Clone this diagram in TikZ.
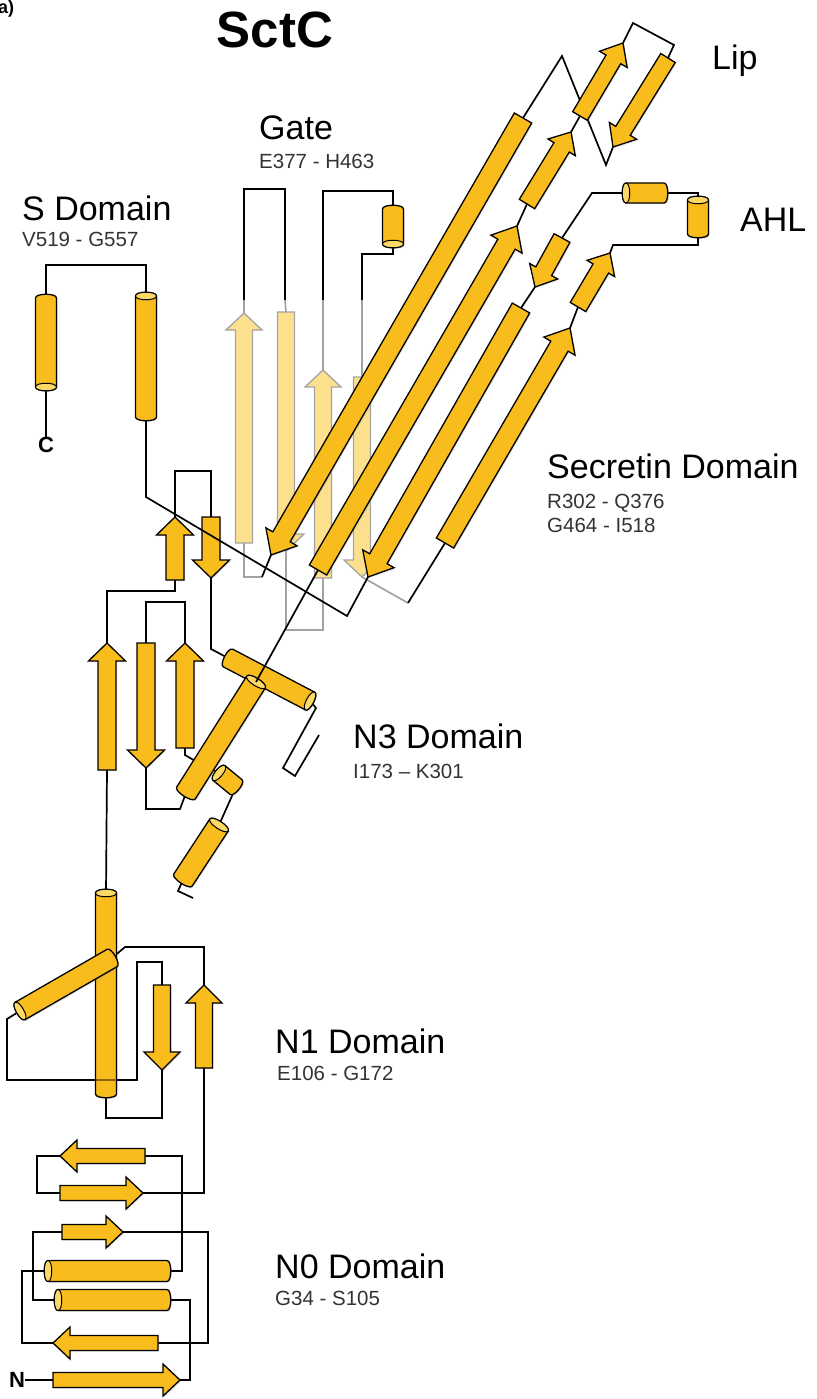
\documentclass[tikz,border=0pt]{standalone}
\usepackage{fontspec}
\setmainfont{Liberation Sans}
\usetikzlibrary{calc,shadows}

\definecolor{sheetfill}{HTML}{F8BC1C}
\definecolor{helixcap}{HTML}{FCD866}
\definecolor{gatefill}{HTML}{FCE08E}
\definecolor{gatedraw}{HTML}{A3A3A3}

\tikzset{
  coil/.style={line width=1.7pt, line join=miter},
  gatecoil/.style={coil, draw=gatedraw},
  sheetbox/.style={draw, fill=sheetfill, line width=1.3pt, line join=miter,
    drop shadow={shadow xshift=1.2pt, shadow yshift=-1.2pt, opacity=.25}},
  gatebox/.style={draw=gatedraw, fill=gatefill, line width=1.3pt, line join=miter},
  rodbody/.style={draw, fill=sheetfill, line width=1.3pt,
    drop shadow={shadow xshift=1.2pt, shadow yshift=-1.2pt, opacity=.25}},
  rodcap/.style={draw, fill=helixcap, line width=1pt},
  domtitle/.style={anchor=base west, inner sep=0pt, font=\fontsize{34}{40}\selectfont},
  residues/.style={anchor=base west, inner sep=0pt, text=black!80,
    font=\fontsize{20.5}{24}\selectfont},
  terminus/.style={inner sep=0pt, font=\bfseries\fontsize{22}{22}\selectfont},
}

% strand arrow from tail #2 to tip #3; \sw half body, \hw half head, \hl head length
\newcommand\setsheet[3]{\def\sw{#1}\def\hw{#2}\def\hl{#3}}
\newcommand\sheetarrow[3][sheetbox]{%
  \coordinate (neck) at ($(#3)!\hl!(#2)$);
  \draw[#1] ($(#2)!\sw!90:(#3)$) -- ($(neck)!\sw!-90:(#2)$) -- ($(neck)!\hw!-90:(#2)$)
    -- (#3) -- ($(neck)!\hw!90:(#2)$) -- ($(neck)!\sw!90:(#2)$)
    -- ($(#2)!\sw!-90:(#3)$) -- cycle;}
% helix rod #2, closed end #3, open end #4 (end face drawn), half width #1
\def\capk{5pt}
\newcommand\helixrod[4][10.5pt]{%
  \coordinate (#2a1) at ($(#3)!#1!90:(#4)$);
  \coordinate (#2a2) at ($(#3)!#1!-90:(#4)$);
  \coordinate (#2b1) at ($(#4)!#1!-90:(#3)$);
  \coordinate (#2b2) at ($(#4)!#1!90:(#3)$);
  \draw[rodbody] (#2b1) -- (#2a1)
    .. controls ($(#2a1)!-\capk!(#2b1)$) and ($(#2a2)!-\capk!(#2b2)$) .. (#2a2)
    -- (#2b2) .. controls ($(#2b2)!-\capk!(#2a2)$) and ($(#2b1)!-\capk!(#2a1)$) .. cycle;
  \draw[rodcap] (#2b1)
    .. controls ($(#2b1)!-\capk!(#2a1)$) and ($(#2b2)!-\capk!(#2a2)$) .. (#2b2)
    .. controls ($(#2b2)!\capk!(#2a2)$) and ($(#2b1)!\capk!(#2a1)$) .. cycle;}

\begin{document}
\begin{tikzpicture}[x=1pt, y=-1pt]
\useasboundingbox (0,0) rectangle (816,1399);

% labels
\node[anchor=base west, inner sep=0pt, font=\bfseries\fontsize{18}{18}\selectfont] (panel) at (-2,14) {a)};
\node[anchor=base, inner sep=0pt, font=\bfseries\fontsize{51}{51}\selectfont] (name) at (275,48) {SctC};
\node[domtitle] (gate) at (259,140) {Gate};
\node[residues] (gater) at (259,168) {E377 - H463};
\node[domtitle] (sdom) at (22,220) {S Domain};
\node[residues] (sdomr) at (22,246) {V519 - G557};
\node[domtitle] (lip) at (712,70) {Lip};
\node[domtitle] (ahl) at (740,231) {AHL};
\node[domtitle] (sec) at (547,478) {Secretin Domain};
\node[residues] (secra) at (547,508) {R302 - Q376};
\node[residues] (secrb) at (547,532) {G464 - I518};
\node[domtitle] (nthree) at (353,748) {N3 Domain};
\node[residues] (nthreer) at (353,778) {I173 – K301};
\node[domtitle] (none) at (275,1053) {N1 Domain};
\node[residues] (noner) at (277,1080) {E106 - G172};
\node[domtitle] (nzero) at (275,1278) {N0 Domain};
\node[residues] (nzeror) at (275,1305) {G34 - S105};
\node[terminus] (nterm) at (17,1380) {N};
\node[terminus] (cterm) at (46,445) {C};

% element ends
% N0
\coordinate (b1s) at (53,1380);  \coordinate (b1e) at (180,1380);
\coordinate (b2s) at (62,1232);  \coordinate (b2e) at (123,1232);
\coordinate (b3s) at (158,1343); \coordinate (b3e) at (53,1343);
\coordinate (b4s) at (145,1156); \coordinate (b4e) at (60,1156);
\coordinate (b5s) at (60,1193);  \coordinate (b5e) at (143,1193);
\coordinate (h1s) at (167,1300); \coordinate (h1e) at (58,1300);
\coordinate (h2s) at (167,1271); \coordinate (h2e) at (48,1271);
% N1
\coordinate (b6s) at (204,1068); \coordinate (b6e) at (204,985);
\coordinate (b7s) at (162,985);  \coordinate (b7e) at (162,1070);
\coordinate (h3s) at (112,958);  \coordinate (h3e) at (20,1011);
\coordinate (h4s) at (106,1094); \coordinate (h4e) at (106,893);
% N3
\coordinate (b8s) at (107,770);  \coordinate (b8e) at (107,643);
\coordinate (b9s) at (175,580);  \coordinate (b9e) at (175,517);
\coordinate (b10s) at (211,517); \coordinate (b10e) at (211,578);
\coordinate (b11s) at (146,643); \coordinate (b11e) at (146,768);
\coordinate (b12s) at (185,748); \coordinate (b12e) at (185,643);
\coordinate (h5s) at (228,658);  \coordinate (h5e) at (310,701);
\coordinate (h6s) at (186,793);  \coordinate (h6e) at (256,682);
\coordinate (h7s) at (236,787);  \coordinate (h7e) at (219,773);
\coordinate (h8s) at (183,880);  \coordinate (h8e) at (219,825);
% secretin and lip
\coordinate (s1s) at (318,570);  \coordinate (s1e) at (517,226);
\coordinate (s2s) at (527,204);  \coordinate (s2e) at (571,132);
\coordinate (l1s) at (580,116);  \coordinate (l1e) at (623,43);
\coordinate (l2s) at (668,58);   \coordinate (l2e) at (613,147);
\coordinate (s3s) at (523,118);  \coordinate (s3e) at (271,555);
\coordinate (s4s) at (445,543);  \coordinate (s4e) at (570,328);
\coordinate (s5s) at (578,307);  \coordinate (s5e) at (610,253);
\coordinate (s6s) at (562,238);  \coordinate (s6e) at (535,287);
\coordinate (s7s) at (521,308);  \coordinate (s7e) at (368,577);
\coordinate (h9s) at (664,193);  \coordinate (h9e) at (626,193);
\coordinate (h10s) at (698,234); \coordinate (h10e) at (698,200);
% gate
\coordinate (g1s) at (244,543);  \coordinate (g1e) at (244,313);
\coordinate (g2s) at (286,312);  \coordinate (g2e) at (286,551);
\coordinate (g3s) at (323,578);  \coordinate (g3e) at (323,370);
\coordinate (g4s) at (362,377);  \coordinate (g4e) at (362,577);
\coordinate (h11s) at (393,209); \coordinate (h11e) at (393,244);
% S domain
\coordinate (h12s) at (146,417); \coordinate (h12e) at (146,296);
\coordinate (h13s) at (46,298);  \coordinate (h13e) at (46,387);

% gate insert, faded
\draw[gatecoil] (262,577) -| (g1s);
\draw[gatecoil] (g1e) -- (244,300);
\draw[coil] (244,300) -- (244,189) -| (285,300);
\draw[gatecoil] (285,300) -- (g2s);
\draw[gatecoil] (g2e) -- (286,630) -| (g3s);
\draw[gatecoil] (g3e) -- (323,300);
\draw[coil] (323,300) -- (323,191) -| (h11s);
\draw[coil] (h11e) -- (393,254) -| (362,300);
\draw[gatecoil] (362,300) -- (g4s);
\draw[gatecoil] (g4e) -- (408,603);
\setsheet{8.5pt}{18pt}{17pt}
\sheetarrow[gatebox]{g1s}{g1e}
\sheetarrow[gatebox]{g2s}{g2e}
\sheetarrow[gatebox]{g3s}{g3e}
\sheetarrow[gatebox]{g4s}{g4e}

% connecting loops
\draw[coil] (nterm) -- (b1s);
\draw[coil] (b1e) -- (190,1380) |- (h1s);
\draw[coil] (h1e) -- (33,1300) |- (b2s);
\draw[coil] (b2e) -- (208,1232) |- (b3s);
\draw[coil] (b3e) -- (22,1343) |- (h2e);
\draw[coil] (h2s) -- (182,1271) |- (b4s);
\draw[coil] (b4e) -- (37,1156) |- (b5s);
\draw[coil] (b5e) -| (b6s);
\draw[coil] (b6e) -- (204,947) -- (125,947) -- (h3s);
\draw[coil] (h3e) -- (7,1019) -- (7,1080) -- (137,1080) |- (162,962) -- (b7s);
\draw[coil] (b7e) -- (162,1118) -| (h4s);
\draw[coil] (h4e) -- (b8s);
\draw[coil] (b8e) -- (107,591) -| (b9s);
\draw[coil] (b9e) -- (175,471) -| (b10s);
\draw[coil] (b10e) -- (211,649) -- (h5s);
\draw[coil] (h5e) -- (316,708) -- (283,768) -- (295,776) -- (319,735);
\draw[coil] (h8s) -- (178,891) -- (193,898);
\draw[coil] (h8e) -- (h7s);
\draw[coil] (h7e) -- (197,762) -- (185,755) -- (b12s);
\draw[coil] (b12e) -- (185,602) -| (b11s);
\draw[coil] (b11e) -- (146,809) -- (180,809) -- (h6s);
\draw[coil] (s1e) -- (s2s);
\draw[coil] (s2e) -- (l1s);
\draw[coil] (l1e) -- (633,23) -- (674,45) -- (l2s);
\draw[coil] (l2e) -- (606,165) -- (562,56) -- (s3s);
\draw[coil] (s3e) -- (262,577);
\draw[coil] (408,603) -- (s4s);
\draw[coil] (s4e) -- (s5s);
\draw[coil] (s5e) -- (613,245) -| (h10s);
\draw[coil] (h10e) |- (h9s);
\draw[coil] (h9e) -- (592,193) -- (s6s);
\draw[coil] (s6e) -- (s7s);
\draw[coil] (h12e) -- (146,265) -| (h13s);
\draw[coil] (h13e) -- (cterm);

% N0 domain
\setsheet{7.5pt}{16pt}{17pt}
\sheetarrow{b1s}{b1e}
\sheetarrow{b2s}{b2e}
\sheetarrow{b3s}{b3e}
\sheetarrow{b4s}{b4e}
\sheetarrow{b5s}{b5e}
\helixrod{ha}{h1s}{h1e}
\helixrod{hb}{h2s}{h2e}

% N1 domain
\setsheet{8.5pt}{18pt}{18pt}
\sheetarrow{b6s}{b6e}
\sheetarrow{b7s}{b7e}
\helixrod{hd}{h4s}{h4e}
\draw[coil, draw opacity=.45] (7,1080) -- (137,1080);
\helixrod[10pt]{hc}{h3s}{h3e}

% N3 domain
\setsheet{9pt}{18.5pt}{18pt}
\sheetarrow{b8s}{b8e}
\sheetarrow{b9s}{b9e}
\sheetarrow{b10s}{b10e}
\sheetarrow{b11s}{b11e}
\sheetarrow{b12s}{b12e}
\helixrod[10pt]{he}{h5s}{h5e}
\helixrod[11pt]{hf}{h6s}{h6e}
\helixrod[9.5pt]{hg}{h7s}{h7e}
\helixrod[11pt]{hh}{h8s}{h8e}
\draw[coil] (h6e) -- (s1s);
\draw[coil] (s7e) -- (347,616) -- (146,497) -- (h12s);

% secretin domain
\setsheet{10pt}{18pt}{21pt}
\sheetarrow{s1s}{s1e}
\sheetarrow{s3s}{s3e}
\sheetarrow{s4s}{s4e}
\sheetarrow{s7s}{s7e}
\setsheet{9pt}{16pt}{18pt}
\sheetarrow{s2s}{s2e}
\sheetarrow{s5s}{s5e}
\sheetarrow{s6s}{s6e}
\setsheet{8.5pt}{16pt}{19pt}
\sheetarrow{l1s}{l1e}
\sheetarrow{l2s}{l2e}
\helixrod[10pt]{hi}{h9s}{h9e}
\helixrod{hj}{h10s}{h10e}
\helixrod{hk}{h11s}{h11e}

% S domain
\helixrod{hl}{h12s}{h12e}
\helixrod{hm}{h13s}{h13e}
\end{tikzpicture}
\end{document}
